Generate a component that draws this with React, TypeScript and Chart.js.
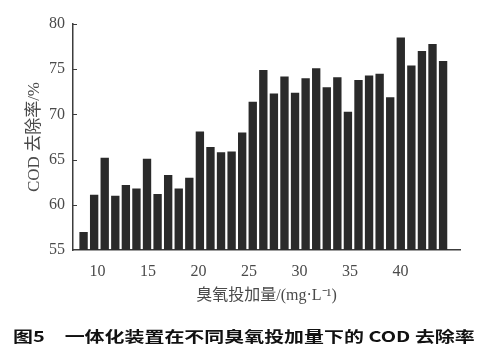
import React, { useEffect, useRef } from 'react';
import { Chart, registerables } from 'chart.js';

Chart.register(...registerables);

// ozone dose (mg/L) of each bar
const doses = [9, 10, 11, 12, 13, 14, 15, 16, 17, 18, 19, 20, 21, 22, 23, 24, 25, 26, 27, 28, 29, 30, 31, 32, 33, 34, 35, 36, 37, 38, 39, 40, 41, 42, 43];
// COD removal rate (%)
const codRemoval = [57.0, 61.1, 65.2, 61.0, 62.2, 61.8, 65.1, 61.2, 63.3, 61.8, 63.0, 68.1, 66.4, 65.8, 65.9, 68.0, 71.4, 74.9, 72.3, 74.2, 72.4, 74.0, 75.1, 73.0, 74.1, 70.3, 73.8, 74.3, 74.5, 71.9, 78.5, 75.4, 77.0, 77.8, 75.9];
const xTickValues = [10, 15, 20, 25, 30, 35, 40];
const yTickValues = [55, 60, 65, 70, 75, 80];

const xTitle = '臭氧投加量/(mg·L⁻¹)';
const yTitle = 'COD 去除率/%';
const caption = '图5　一体化装置在不同臭氧投加量下的 COD 去除率';

const AXIS_COLOR = '#3c3c3c';
const TEXT_COLOR = '#4a4a4a';
const SERIF = '"Liberation Serif", "Times New Roman", "Noto Sans CJK SC", serif';

const inwardTicks = {
  id: 'inwardTicks',
  afterDraw(chart: any) {
    const y = chart.scales.y;
    const { ctx, chartArea } = chart;
    ctx.save();
    ctx.strokeStyle = AXIS_COLOR;
    ctx.lineWidth = 1;
    for (const t of y.ticks) {
      if (t.value === y.min) continue;
      const py = Math.round(y.getPixelForValue(t.value)) + 0.5;
      ctx.beginPath();
      ctx.moveTo(chartArea.left, py);
      ctx.lineTo(chartArea.left + 4, py);
      ctx.stroke();
    }
    ctx.restore();
  },
};

export default function App() {
  const canvasRef = useRef<HTMLCanvasElement | null>(null);

  useEffect(() => {
    if (!canvasRef.current) return;
    const chart = new Chart(canvasRef.current, {
      type: 'bar',
      data: {
        datasets: [
          {
            xAxisID: 'xBars',
            data: doses.map((d, i) => ({ x: d, y: codRemoval[i] })),
            backgroundColor: '#2a2a2a',
            borderWidth: 0,
            barPercentage: 0.79,
            categoryPercentage: 1,
          },
        ],
      },
      options: {
        animation: false,
        responsive: false,
        devicePixelRatio: 1,
        layout: { padding: { left: 26, top: 24, right: 19, bottom: 52.4 } },
        plugins: { legend: { display: false }, tooltip: { enabled: false } },
        scales: {
          xBars: {
            type: 'linear',
            position: 'bottom',
            display: false,
            min: 8,
            max: 44.6,
            offset: false,
          },
          x: {
            type: 'linear',
            position: 'bottom',
            min: 7.57,
            max: 45.9,
            offset: false,
            grid: { display: false, drawTicks: false },
            border: { display: true, color: AXIS_COLOR, width: 1.5 },
            afterBuildTicks: (s: any) => {
              s.ticks = xTickValues.map((v) => ({ value: v }));
            },
            ticks: {
              color: TEXT_COLOR,
              padding: 14,
              font: { family: SERIF, size: 16, lineHeight: 1 },
              callback: (v: any) => String(v),
            },
            title: {
              display: true,
              text: xTitle,
              color: TEXT_COLOR,
              font: { family: SERIF, size: 16, lineHeight: 1.2 },
              padding: { top: -7.6, bottom: 0 },
            },
          },
          y: {
            min: 55,
            max: 80,
            grid: { display: false, drawTicks: false },
            border: { display: true, color: AXIS_COLOR, width: 1.5 },
            afterBuildTicks: (s: any) => {
              s.ticks = yTickValues.map((v) => ({ value: v }));
            },
            ticks: {
              color: TEXT_COLOR,
              padding: 8,
              font: { family: SERIF, size: 16 },
            },
            title: {
              display: true,
              text: yTitle,
              color: TEXT_COLOR,
              font: { family: SERIF, size: 17, lineHeight: 1.2 },
              padding: { top: -1.2, bottom: -4.2 },
            },
          },
        },
      },
      plugins: [inwardTicks],
    } as any);
    return () => chart.destroy();
  }, []);

  return (
    <div style={{ position: 'absolute', left: 0, top: 0, width: 479, height: 358, background: '#fff', overflow: 'hidden' }}>
      <canvas ref={canvasRef} width={479} height={358} style={{ display: 'block', width: 479, height: 358 }} />
      <div
        style={{
          position: 'absolute',
          left: 13,
          top: 328,
          fontFamily: '"Noto Sans CJK SC", sans-serif',
          fontWeight: 700,
          fontSize: 15,
          lineHeight: '16px',
          color: '#111',
          whiteSpace: 'nowrap',
          transform: 'scaleX(1.33)',
          transformOrigin: 'left top',
        }}
      >
        {caption}
      </div>
    </div>
  );
}
